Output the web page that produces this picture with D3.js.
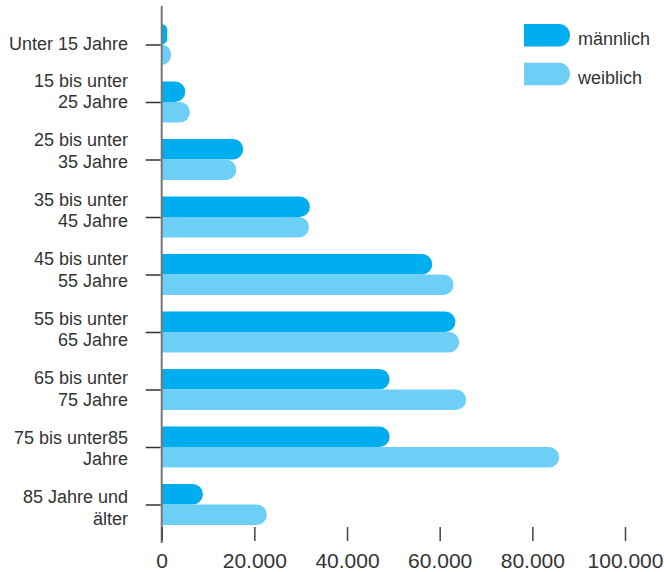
<!DOCTYPE html>
<html lang="de">
<head>
    <meta charset="UTF-8">
    <title>Altersgruppen nach Geschlecht</title>
    <script src="https://d3js.org/d3.v7.min.js"></script>
    <style>
        body { margin: 0; background: #fff; }
        text { font-family: "Liberation Sans", Arial, sans-serif; fill: #333; }
    </style>
</head>
<body>
    <div id="chart"></div>
    <script>
        // Data
        const categories = [
            ["Unter 15 Jahre"],
            ["15 bis unter", "25 Jahre"],
            ["25 bis unter", "35 Jahre"],
            ["35 bis unter", "45 Jahre"],
            ["45 bis unter", "55 Jahre"],
            ["55 bis unter", "65 Jahre"],
            ["65 bis unter", "75 Jahre"],
            ["75 bis unter85", "Jahre"],
            ["85 Jahre und", "älter"]
        ];
        const maennlich = [1200, 5100, 17600, 32000, 58400, 63400, 49200, 49200, 8900];
        const weiblich = [2000, 6100, 16100, 31800, 63000, 64200, 65700, 85800, 22700];
        const xTicks = [0, 20000, 40000, 60000, 80000, 100000];
        const seriesNames = ["männlich", "weiblich"];
        const colors = ["#00aeef", "#6dcff6"];

        const width = 664;
        const height = 572;

        const svg = d3.select("#chart")
            .append("svg")
            .attr("width", width)
            .attr("height", height);

        // Scales
        const x = d3.scaleLinear()
            .domain([0, 100000])
            .range([161.7, 625]);

        const idx = d3.range(categories.length);
        const y = d3.scalePoint()
            .domain(idx)
            .range([44.5, 504.5]);

        const barH = 20.5;

        // bar with rounded right end
        function barPath(x0, x1, y0, h) {
            const w = Math.max(x1 - x0, 0.1);
            const r = Math.min(h / 2, w);
            const y1 = y0 + h;
            return `M${x0},${y0}H${x1 - r}A${r},${r} 0 0 1 ${x1},${y0 + r}` +
                `V${y1 - r}A${r},${r} 0 0 1 ${x1 - r},${y1}H${x0}Z`;
        }

        const bars = svg.append("g");
        [maennlich, weiblich].forEach((series, s) => {
            bars.selectAll(null)
                .data(series)
                .enter()
                .append("path")
                .attr("d", (d, i) => barPath(x(0), x(d), y(i) - barH + s * barH, barH))
                .attr("fill", colors[s]);
        });

        // y axis line
        svg.append("line")
            .attr("x1", x(0)).attr("x2", x(0))
            .attr("y1", 6).attr("y2", 543)
            .attr("stroke", "#777")
            .attr("stroke-width", 2);

        // y ticks
        const yAxis = svg.append("g")
            .attr("transform", `translate(${x(0) - 1},0)`)
            .call(d3.axisLeft(y).tickSize(15).tickFormat(""));
        yAxis.select(".domain").remove();
        yAxis.selectAll(".tick line").attr("stroke", "#333").attr("stroke-width", 1.5);

        // y labels (two lines, right aligned)
        const labelY = d3.scaleLinear().domain([1, 8]).range([86.7, 503.3]);
        const labels = svg.append("g")
            .attr("font-size", 18)
            .attr("text-anchor", "end");
        categories.forEach((lines, i) => {
            const t = labels.append("text").attr("x", 128);
            if (lines.length === 1) {
                t.attr("y", y(i) + 5).text(lines[0]);
            } else {
                lines.forEach((ln, k) => {
                    t.append("tspan")
                        .attr("x", 128)
                        .attr("y", labelY(i) + k * 21.5)
                        .text(ln);
                });
            }
        });

        // x axis
        const fmt = d => d3.format(",")(d).replace(/,/g, ".");
        const xAxis = svg.append("g")
            .attr("transform", "translate(0,527)")
            .call(d3.axisBottom(x).tickValues(xTicks).tickSize(14).tickPadding(12).tickFormat(fmt));
        xAxis.select(".domain").remove();
        xAxis.selectAll(".tick line").attr("stroke", "#444").attr("stroke-width", 1.5);
        xAxis.selectAll(".tick text")
            .attr("font-size", 21)
            .attr("font-family", "Liberation Sans, Arial, sans-serif")
            .attr("fill", "#333")
            .attr("dy", "0.71em");

        // legend
        const legend = svg.append("g");
        seriesNames.forEach((name, s) => {
            const ly = 24 + s * 38.7;
            legend.append("path")
                .attr("d", barPath(524, 570, ly, 22.5))
                .attr("fill", colors[s]);
            legend.append("text")
                .attr("x", 578)
                .attr("y", ly + 21)
                .attr("font-size", 18)
                .text(name);
        });
    </script>
</body>
</html>
